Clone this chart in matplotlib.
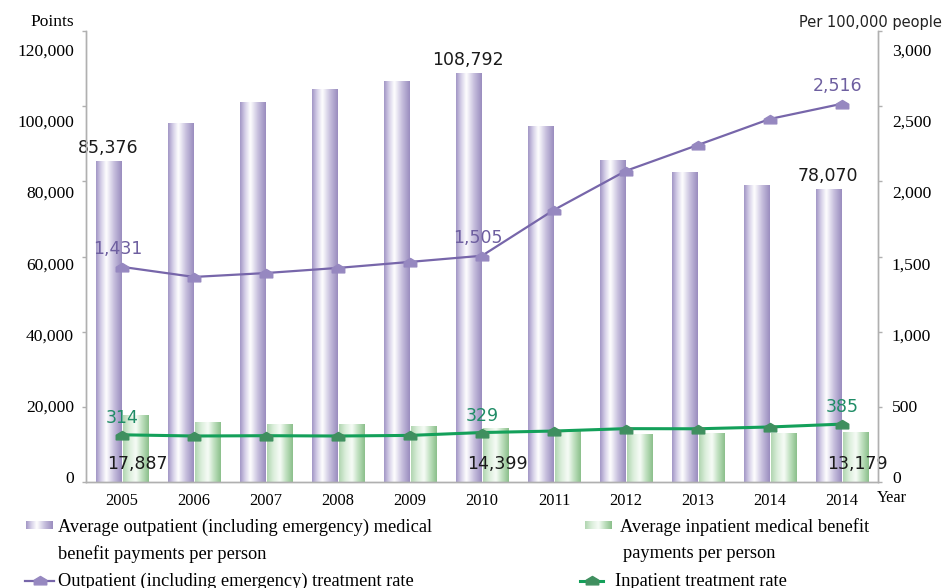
import numpy as np
import matplotlib
matplotlib.use("Agg")
import matplotlib.pyplot as plt
from matplotlib.path import Path
from matplotlib.colors import LinearSegmentedColormap
from matplotlib.lines import Line2D

# ---------------- data ----------------
years = ["2005", "2006", "2007", "2008", "2009", "2010", "2011", "2012", "2013", "2014", "2014"]
outpatient_pay = [85376, 95500, 101000, 104500, 106600, 108792, 94700, 85600, 82400, 79000, 78070]
inpatient_pay = [17887, 16000, 15400, 15400, 14900, 14399, 13600, 12800, 13000, 13100, 13179]
outpatient_rate = [1431, 1364, 1390, 1424, 1464, 1505, 1810, 2070, 2242, 2415, 2516]
inpatient_rate = [314, 306, 308, 306, 310, 329, 339, 355, 354, 366, 385]
left_ticks = [0, 20000, 40000, 60000, 80000, 100000, 120000]
right_ticks = [0, 500, 1000, 1500, 2000, 2500, 3000]
labelled = [0, 5, 10]

SERIF = ["Liberation Serif", "DejaVu Serif"]
SANS = ["DejaVu Sans"]

purple_stops = ["#a195c5", "#d6d0e8", "#ffffff", "#c6bedd", "#998cbe"]
green_stops = ["#b0d5b0", "#dbeedb", "#f7fcf7", "#bcdebc", "#8abf8a"]
purple_cmap = LinearSegmentedColormap.from_list("p", list(zip([0, 0.2, 0.4, 0.7, 1], purple_stops)))
green_cmap = LinearSegmentedColormap.from_list("g", list(zip([0, 0.25, 0.5, 0.75, 1], green_stops)))

house = Path([(-1, -0.7), (1, -0.7), (1, 0.05), (0, 0.65), (-1, 0.05), (-1, -0.7)],
             [Path.MOVETO, Path.LINETO, Path.LINETO, Path.LINETO, Path.LINETO, Path.CLOSEPOLY])

fig = plt.figure(figsize=(9.42, 5.88), dpi=100)
ax = fig.add_axes([86 / 942, 1 - 482 / 588, (878 - 86) / 942, (482 - 31) / 588])
ax2 = ax.twinx()

x = np.arange(len(years))
bw = 0.355
off = 0.19

bars_o = ax.bar(x - off, outpatient_pay, bw, color="#c8c0e0", edgecolor="none", zorder=2)
bars_i = ax.bar(x + off, inpatient_pay, bw, color="#cfe6cf", edgecolor="none", zorder=2)

grad = np.linspace(0, 1, 256)[np.newaxis, :]
for bars, cmap in ((bars_o, purple_cmap), (bars_i, green_cmap)):
    for b in bars:
        x0, y0, w, h = b.get_x(), b.get_y(), b.get_width(), b.get_height()
        im = ax.imshow(grad, cmap=cmap, extent=[x0, x0 + w, y0, y0 + h], aspect="auto",
                       zorder=2.5, interpolation="bicubic")
        im.set_clip_path(b)

ax.set_xlim(-0.5, len(years) - 0.5)
ax.set_ylim(0, 120000)
ax2.set_ylim(0, 3000)

ax2.plot(x, outpatient_rate, color="#7766aa", lw=1.6, marker=house, markersize=9,
         markerfacecolor="#9688c0", markeredgecolor="#9688c0", zorder=5)
ax2.plot(x, inpatient_rate, color="#14a05a", lw=2.2, marker=house, markersize=9,
         markerfacecolor="#3f8f5f", markeredgecolor="#3f8f5f", zorder=5)

# data labels
for i in labelled:
    ax.annotate(f"{outpatient_pay[i]:,}", (x[i] - off, outpatient_pay[i]), xytext=(0, 13),
                textcoords="offset pixels", ha="center", va="center", fontsize=12.5,
                family=SANS, color="#1a1a1a", zorder=6)
    ax.annotate(f"{inpatient_pay[i]:,}", (x[i] + 0.22, 4800), xytext=(0, 0),
                textcoords="offset pixels", ha="center", va="center", fontsize=12.5,
                family=SANS, color="#1a1a1a", zorder=6)
    ax2.annotate(f"{outpatient_rate[i]:,}", (x[i], outpatient_rate[i]), xytext=(-4, 18),
                 textcoords="offset pixels", ha="center", va="center", fontsize=12.5,
                 family=SANS, color="#6e5fa0", zorder=6)
    ax2.annotate(f"{inpatient_rate[i]:,}", (x[i], inpatient_rate[i]), xytext=(0, 17),
                 textcoords="offset pixels", ha="center", va="center", fontsize=12.5,
                 family=SANS, color="#1f8c66", zorder=6)

# axes styling
for a in (ax, ax2):
    a.spines["top"].set_visible(False)
    for s in ("left", "right", "bottom"):
        a.spines[s].set_color("#b0b0b0")
        a.spines[s].set_linewidth(1.0)
ax.set_xticks(x)
ax.set_xticklabels(years, family=SERIF, fontsize=11.8)
ax.tick_params(axis="x", length=0, pad=8)

# tick labels sit slightly compressed toward the baseline, as in the source image
lab_scale = 0.948
ax.set_yticks([v * lab_scale + 1330 for v in left_ticks])
ax.set_yticklabels([f"{v:,}" for v in left_ticks], family=SERIF, fontsize=12.6)
ax.tick_params(axis="y", which="major", length=0, pad=8.5)
ax.set_yticks(left_ticks, minor=True)
ax.tick_params(axis="y", which="minor", length=3, color="#b0b0b0", width=1)

ax2.set_yticks([v * lab_scale + 33 for v in right_ticks])
ax2.set_yticklabels([f"{v:,}" for v in right_ticks], family=SERIF, fontsize=12.6)
ax2.tick_params(axis="y", which="major", length=0, pad=10)
ax2.set_yticks(right_ticks, minor=True)
ax2.tick_params(axis="y", which="minor", length=3, color="#b0b0b0", width=1)

fig.text(74 / 942, 1 - 22 / 588, "Points", family=SERIF, fontsize=12.5, ha="right", va="center")
fig.text(942 / 942, 1 - 22 / 588, "Per 100,000 people", family=SANS, fontsize=10.5,
         ha="right", va="center", color="#222222")
fig.text(892 / 942, 1 - 498 / 588, "Year", family=SERIF, fontsize=11.8, ha="center", va="center")

# legend
def swatch(x0, y0, x1, y1, cmap):
    sa = fig.add_axes([x0 / 942, 1 - y1 / 588, (x1 - x0) / 942, (y1 - y0) / 588])
    sa.imshow(grad, cmap=cmap, aspect="auto", interpolation="bicubic")
    sa.set_axis_off()

LFS = 13.2
swatch(26, 521, 53, 529, purple_cmap)
swatch(585, 521, 612, 529, green_cmap)
fig.text(58 / 942, 1 - 527 / 588, "Average outpatient (including emergency) medical",
         family=SERIF, fontsize=LFS, ha="left", va="center")
fig.text(58 / 942, 1 - 554 / 588, "benefit payments per person",
         family=SERIF, fontsize=LFS, ha="left", va="center")
fig.text(620 / 942, 1 - 527 / 588, "Average inpatient medical benefit",
         family=SERIF, fontsize=LFS, ha="left", va="center")
fig.text(623 / 942, 1 - 554 / 588, "payments per person",
         family=SERIF, fontsize=LFS, ha="left", va="center")
fig.text(58 / 942, 1 - 581 / 588, "Outpatient (including emergency) treatment rate",
         family=SERIF, fontsize=LFS, ha="left", va="center")
fig.text(615 / 942, 1 - 581 / 588, "Inpatient treatment rate",
         family=SERIF, fontsize=LFS, ha="left", va="center")

fig.add_artist(Line2D([25 / 942, 54 / 942], [1 - 581 / 588] * 2, color="#7766aa", lw=1.6,
                      transform=fig.transFigure))
fig.add_artist(Line2D([39.5 / 942], [1 - 580 / 588], marker=house, markersize=9,
                      color="#9688c0", transform=fig.transFigure))
fig.add_artist(Line2D([580 / 942, 603 / 942], [1 - 581 / 588] * 2, color="#14a05a", lw=2.2,
                      transform=fig.transFigure))
fig.add_artist(Line2D([591.5 / 942], [1 - 580 / 588], marker=house, markersize=9,
                      color="#3f8f5f", transform=fig.transFigure))

fig.savefig("out.png", dpi=100)
